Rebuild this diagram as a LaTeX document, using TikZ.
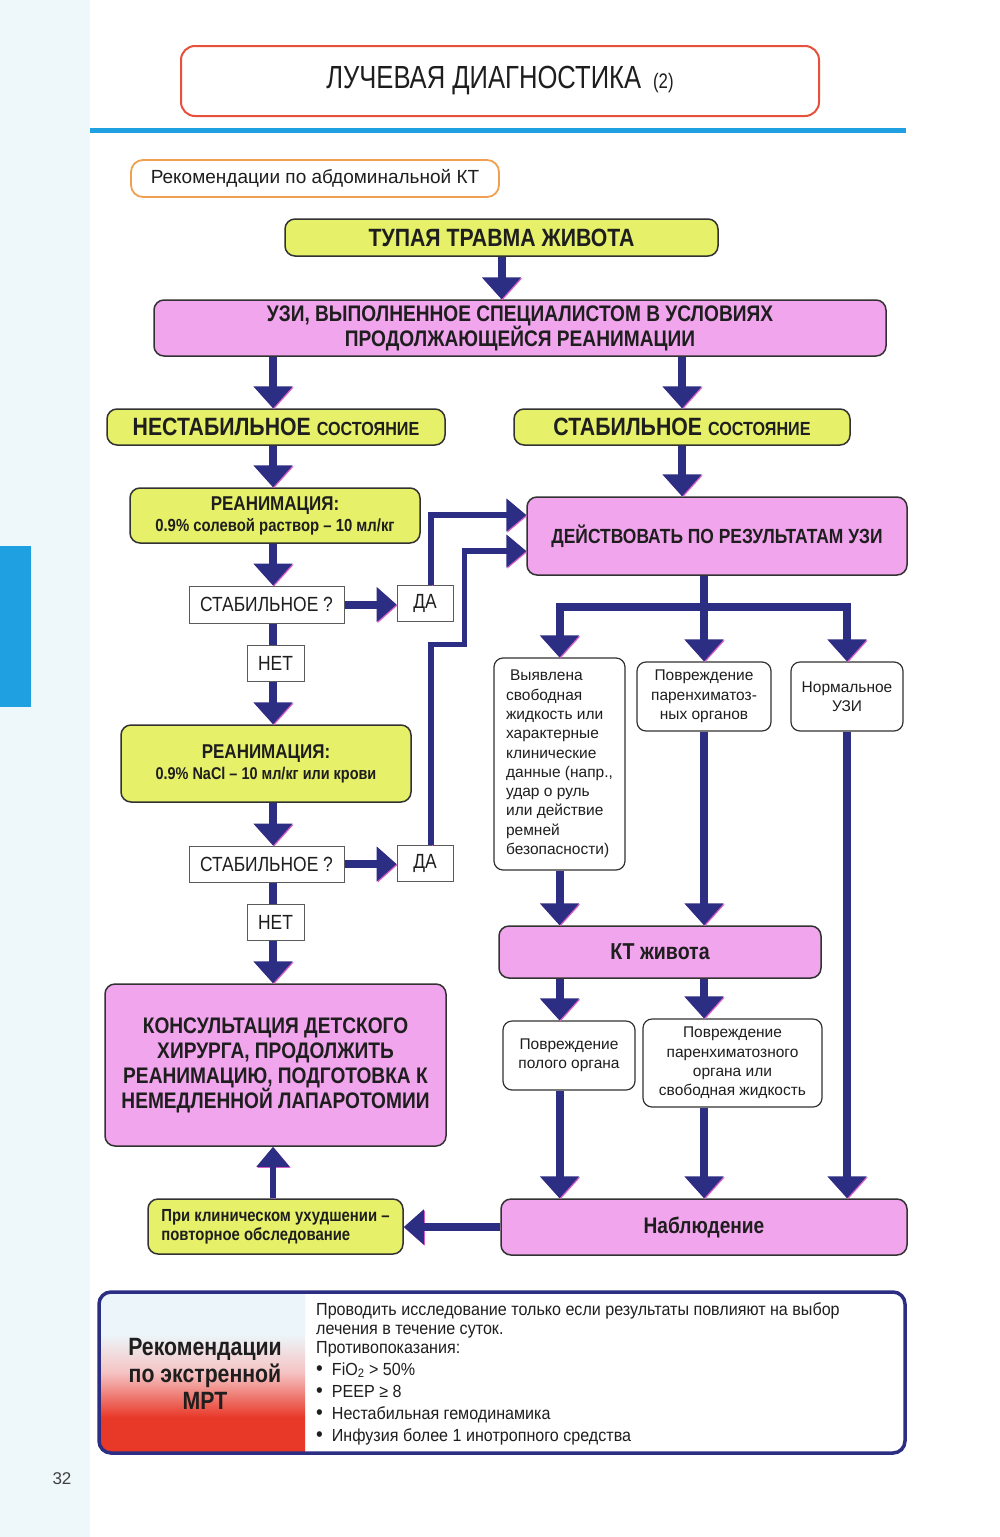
\documentclass[tikz,border=0pt]{standalone}
\usepackage{fontspec}
\setmainfont{Liberation Sans}
\newfontfamily\narrowfont[FakeStretch=0.85]{Liberation Sans}
\newfontfamily\bodyfont[FakeStretch=0.92]{Liberation Sans}
\newfontfamily\titlefont[FakeStretch=0.8]{Liberation Sans}
\usetikzlibrary{arrows.meta,calc}
\definecolor{navy}{RGB}{43,46,130}
\definecolor{lime}{RGB}{230,240,105}
\definecolor{orchid}{RGB}{240,165,236}
\definecolor{edge}{RGB}{50,50,50}
\definecolor{ink}{RGB}{30,30,30}
\definecolor{sky}{RGB}{30,160,225}
\definecolor{tint}{RGB}{238,247,250}
\definecolor{shadowpink}{RGB}{215,90,200}
\definecolor{titlered}{RGB}{230,80,60}
\definecolor{peach}{RGB}{240,160,80}
\definecolor{warmred}{RGB}{232,56,40}
\definecolor{blush}{RGB}{245,195,195}
\definecolor{paleblue}{RGB}{236,246,250}
\pgfdeclareverticalshading{mrishade}{100bp}{color(0bp)=(warmred); color(36bp)=(warmred); color(50bp)=(blush); color(62bp)=(paleblue); color(100bp)=(paleblue)}
\newcommand*{\setfs}[2]{\fontsize{#1pt}{#2pt}\selectfont}

\begin{document}
\begin{tikzpicture}[x=1pt, y=-1pt,
  box/.style      = {draw=edge, line width=1.5pt, rounded corners=10pt, align=center, text=ink, inner sep=2pt},
  limebox/.style  = {box, fill=lime},
  pinkbox/.style  = {box, fill=orchid},
  plainbox/.style = {draw=edge, line width=1.2pt, rounded corners=9pt, fill=white, align=center, text=ink,
                     inner sep=3pt, font=\setfs{15.5}{19.3}},
  askbox/.style   = {draw=edge!80, line width=1pt, fill=white, text=ink, inner sep=0pt, font=\narrowfont\setfs{20.5}{22}},
  flow/.style     = {draw=navy, line width=8pt, -{Triangle[width=38pt,length=22pt]},
                     preaction={draw=shadowpink, transform canvas={shift={(1pt,-1pt)}}}},
  sideflow/.style = {flow, -{Triangle[width=34pt,length=20pt]}},
  slimflow/.style = {draw=navy, line width=5.5pt, -{Triangle[width=32pt,length=20pt]},
                     preaction={draw=shadowpink, transform canvas={shift={(1pt,-1pt)}}}},
  bar/.style      = {draw=navy, line width=8pt},
]
  \useasboundingbox (0,0) rectangle (1000,1537);
  \fill[white] (0,0) rectangle (1000,1537);
  \fill[tint] (0,0) rectangle (90,1537);
  \fill[sky] (0,546) rectangle (31,707);
  \draw[sky, line width=5pt] (90,130) -- (906,130);

  % heading
  \node[draw=titlered, line width=2pt, rounded corners=14pt, minimum width=638pt, minimum height=70pt,
        text=ink, font=\titlefont\setfs{32}{34}] (title) at (500,81)
        {ЛУЧЕВАЯ ДИАГНОСТИКА\hspace{12pt}{\setfs{21}{21}(2)}};
  \node[draw=peach, line width=1.8pt, rounded corners=12pt, minimum width=368pt, minimum height=37pt,
        text=ink, font=\setfs{19}{21}] (rekKT) at (315,178.5) {Рекомендации по абдоминальной КТ};

  % flow chart
  \node[limebox, minimum width=433pt, minimum height=37pt, font=\narrowfont\bfseries\setfs{25}{27}]
    (trauma) at (501.5,237.5) {ТУПАЯ ТРАВМА ЖИВОТА};
  \node[pinkbox, minimum width=732pt, minimum height=56pt, font=\narrowfont\bfseries\setfs{22.5}{25}]
    (uzi) at (520,328) {УЗИ, ВЫПОЛНЕННОЕ СПЕЦИАЛИСТОМ В УСЛОВИЯХ\\ПРОДОЛЖАЮЩЕЙСЯ РЕАНИМАЦИИ};
  \node[limebox, minimum width=338pt, minimum height=36pt, font=\narrowfont\bfseries]
    (unstable) at (276,427) {{\setfs{25}{27}НЕСТАБИЛЬНОЕ}\hspace{6pt}{\setfs{19}{21}СОСТОЯНИЕ}};
  \node[limebox, minimum width=336pt, minimum height=36pt, font=\narrowfont\bfseries]
    (stable) at (682,427) {{\setfs{25}{27}СТАБИЛЬНОЕ}\hspace{6pt}{\setfs{19}{21}СОСТОЯНИЕ}};

  % left column
  \node[limebox, minimum width=290pt, minimum height=55pt, font=\narrowfont\bfseries\setfs{17.5}{21}]
    (reanimA) at (275,515.5) {{\setfs{20}{22}РЕАНИМАЦИЯ:}\\0.9\% солевой раствор – 10 мл/кг};
  \node[askbox, minimum width=155pt, minimum height=37pt] (askA) at (266.5,604.5) {СТАБИЛЬНОЕ ?};
  \node[askbox, minimum width=56pt, minimum height=36pt] (yesA) at (425,603) {ДА};
  \node[askbox, minimum width=57pt, minimum height=36pt] (noA) at (275.5,663) {НЕТ};
  \node[limebox, minimum width=290pt, minimum height=77pt, font=\narrowfont\bfseries\setfs{17}{21}]
    (reanimB) at (266,763.5) {{\setfs{20}{22}РЕАНИМАЦИЯ:}\\0.9\% NaCl – 10 мл/кг или крови};
  \node[askbox, minimum width=155pt, minimum height=36pt] (askB) at (266.5,864) {СТАБИЛЬНОЕ ?};
  \node[askbox, minimum width=56pt, minimum height=36pt] (yesB) at (425,863) {ДА};
  \node[askbox, minimum width=57pt, minimum height=36pt] (noB) at (275.5,922) {НЕТ};
  \node[pinkbox, minimum width=341pt, minimum height=162pt, font=\narrowfont\bfseries\setfs{22.5}{25}]
    (consult) at (275.5,1065) {КОНСУЛЬТАЦИЯ ДЕТСКОГО\\ХИРУРГА, ПРОДОЛЖИТЬ\\РЕАНИМАЦИЮ, ПОДГОТОВКА К\\НЕМЕДЛЕННОЙ ЛАПАРОТОМИИ};
  \node[limebox, minimum width=255pt, minimum height=55pt, align=left, font=\narrowfont\bfseries\setfs{17.5}{19}]
    (worse) at (275.5,1226.5) {При клиническом ухудшении –\\повторное обследование};

  % right column
  \node[pinkbox, minimum width=380pt, minimum height=78pt, font=\narrowfont\bfseries\setfs{20.5}{22}]
    (act) at (717,536) {ДЕЙСТВОВАТЬ ПО РЕЗУЛЬТАТАМ УЗИ};
  \node[plainbox, minimum width=131pt, minimum height=212pt, align=left] (found) at (559.5,764)
    {\hspace{4pt}Выявлена\\свободная\\жидкость или\\характерные\\клинические\\данные (напр.,\\удар о руль\\или действие\\ремней\\безопасности)};
  \node[plainbox, minimum width=134pt, minimum height=69pt] (parench) at (704,696.5)
    {Повреждение\\паренхиматоз-\\ных органов};
  \node[plainbox, minimum width=112pt, minimum height=69pt] (normal) at (847,696.5) {Нормальное\\УЗИ};
  \node[pinkbox, minimum width=322pt, minimum height=52pt, font=\narrowfont\bfseries\setfs{23}{25}]
    (ct) at (660,952) {КТ живота};
  \node[plainbox, minimum width=132pt, minimum height=69pt] (hollow) at (569,1055.5) {Повреждение\\полого органа};
  \node[plainbox, minimum width=179pt, minimum height=88pt] (solid) at (732.5,1063)
    {Повреждение\\паренхиматозного\\органа или\\свободная жидкость};
  \node[pinkbox, minimum width=406pt, minimum height=56pt, font=\narrowfont\bfseries\setfs{22.5}{24}]
    (observe) at (704,1227) {Наблюдение};

  % connectors
  \coordinate (lc) at (273,0);
  \coordinate (split) at (704,607);
  \coordinate (riseA) at ([xshift=6pt]yesA.north);
  \coordinate (riseB) at ([xshift=6pt]yesB.north);
  \draw[flow] (trauma.south) -- (trauma.south |- uzi.north);
  \draw[flow] (uzi.south -| lc) -- (unstable.north -| lc);
  \draw[flow] (uzi.south -| stable) -- (stable.north);
  \draw[flow] (unstable.south -| lc) -- (reanimA.north -| lc);
  \draw[flow] (reanimA.south -| lc) -- (askA.north -| lc);
  \draw[bar] (askA.south -| lc) -- (noA.north -| lc);
  \draw[flow] (noA.south -| lc) -- (reanimB.north -| lc);
  \draw[flow] (reanimB.south -| lc) -- (askB.north -| lc);
  \draw[bar] (askB.south -| lc) -- (noB.north -| lc);
  \draw[flow] (noB.south -| lc) -- (consult.north -| lc);
  \draw[sideflow] (askA.east) -- (askA.east -| yesA.west);
  \draw[sideflow] (askB.east) -- (askB.east -| yesB.west);
  \draw[slimflow] (riseA) |- ([yshift=21pt]act.west);
  \draw[slimflow] (riseB) -- (riseB |- noA.north) -| ([xshift=11pt]yesA.east) |- ([yshift=-15pt]act.west);
  \draw[flow] (stable.south) -- (stable.south |- act.north);
  \draw[bar] (act.south -| split) -- ([yshift=-4pt]split);
  \draw[flow] (split) -| (found.north);
  \draw[flow] (split) -| (normal.north);
  \draw[flow] (split) -- (parench.north);
  \draw[flow] (found.south) -- (found.south |- ct.north);
  \draw[flow] (parench.south) -- (parench.south |- ct.north);
  \draw[flow] (normal.south) -- (normal.south |- observe.north);
  \draw[flow] (found.south |- ct.south) -- (found.south |- hollow.north);
  \draw[flow] (parench.south |- ct.south) -- (parench.south |- solid.north);
  \draw[flow] (found.south |- hollow.south) -- (found.south |- observe.north);
  \draw[flow] (parench.south |- solid.south) -- (parench.south |- observe.north);
  \draw[sideflow] (observe.west) -- (observe.west -| worse.east);
  \draw[slimflow] (worse.north -| lc) -- (consult.south -| lc);

  % MRI recommendations
  \begin{scope}
    \clip[rounded corners=12pt] (99,1292) rectangle (905,1453);
    \shade[shading=mrishade] (99,1292) rectangle (305,1453);
  \end{scope}
  \node[draw=navy, line width=3.5pt, rounded corners=12pt, minimum width=806pt, minimum height=161pt]
    (mri) at (502,1372.5) {};
  \node[align=center, text=ink, font=\narrowfont\bfseries\setfs{25}{27}] (mrihead) at (205,1374)
    {Рекомендации\\по экстренной\\МРТ};
  \node[anchor=north west, align=left, text=ink, inner sep=0pt, font=\bodyfont\setfs{17.5}{19}] (mritext) at (316,1302)
    {Проводить исследование только если результаты повлияют на выбор\\
     лечения в течение суток.\\
     Противопоказания:\\[3pt]
     {\setfs{21}{19}\textbullet}\ \ FiO\textsubscript{2} > 50\%\\[3pt]
     {\setfs{21}{19}\textbullet}\ \ PEEP ≥ 8\\[3pt]
     {\setfs{21}{19}\textbullet}\ \ Нестабильная гемодинамика\\[3pt]
     {\setfs{21}{19}\textbullet}\ \ Инфузия более 1 инотропного средства};

  \node[text=black!75, font=\setfs{17}{17}] (pagenum) at (62,1479) {32};
\end{tikzpicture}
\end{document}
